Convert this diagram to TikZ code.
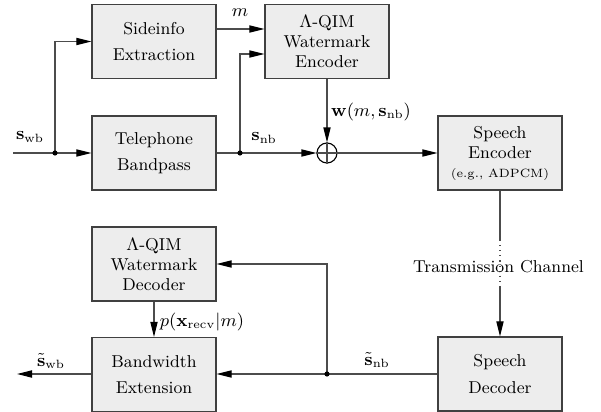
\documentclass[tikz,border=0pt]{standalone}
\usepackage{amsmath,amssymb}
\usetikzlibrary{arrows.meta}

\begin{document}
\begin{tikzpicture}[x=0.5pt,y=-0.5pt,
  blk/.style={draw=black!75,fill=black!7,line width=0.6pt,minimum width=62pt,
    minimum height=37pt,inner sep=0pt,align=center,font=\fontsize{8.6}{10}\selectfont},
  sig/.style={draw=black!70,line width=0.55pt},
  arr/.style={sig,-{Triangle[length=7.5pt,width=3.6pt,black]}},
  lbl/.style={font=\fontsize{8.6}{10}\selectfont,inner sep=0pt}]
 \useasboundingbox (0,0) rectangle (601,412);
 \node[blk] (side) at (154,41.5) {Sideinfo\\[3.3pt]Extraction};
 \node[blk] (tbp) at (154,153) {Telephone\\[3.3pt]Bandpass};
 \node[blk] (wmenc) at (327,41.5) {$\Lambda$-QIM\\Watermark\\Encoder};
 \node[blk] (spenc) at (500,153) {Speech\\Encoder\\[-0.5pt]{\fontsize{6}{7}\selectfont (e.g., ADPCM)}};
 \node[blk] (spdec) at (500,374) {Speech\\[3.3pt]Decoder};
 \node[blk] (wmdec) at (154,264) {$\Lambda$-QIM\\Watermark\\Decoder};
 \node[blk] (bwe) at (154,374.5) {Bandwidth\\[3.3pt]Extension};
 \node[circle,draw=black,line width=0.55pt,minimum size=10pt,inner sep=0pt] (plus) at (327,153) {};
 \draw[sig] (plus.north) -- (plus.south) (plus.west) -- (plus.east);
 \coordinate (in) at (13,153);
 \coordinate (j1) at (55,153);
 \coordinate (j2) at (240,153);
 \coordinate (j3) at (327,374);
 \coordinate (out) at (17,374);
 \coordinate (ch1) at (500,240);
 \coordinate (ch2) at (500,287);
 \draw[sig] (in) -- (j1);
 \draw[arr] (j1) -- (tbp.west);
 \draw[arr] (j1) |- (side.west);
 \draw[arr] ([yshift=6.25pt]side.east) -- ([yshift=6.25pt]wmenc.west);
 \draw[sig] (tbp.east) -- (j2);
 \draw[arr] (j2) -- (plus.west);
 \draw[arr] (j2) |- ([yshift=-6.25pt]wmenc.west);
 \draw[arr] (wmenc.south) -- (plus.north);
 \draw[arr] (plus.east) -- (spenc.west);
 \draw[sig] (spenc.south) -- (ch1);
 \draw[sig,dotted] (ch1) -- (ch2);
 \draw[arr] (ch2) -- (spdec.north);
 \draw[arr] (spdec.west) -- (bwe.east |- j3);
 \draw[arr] (j3) |- (wmdec.east);
 \draw[arr] (wmdec.south) -- (bwe.north);
 \draw[arr] (bwe.west |- out) -- (out);
 \foreach \p in {j1,j2,j3} \fill[black] (\p) circle (1.3pt);
 \node[lbl] (lm) at (240,13) {$m$};
 \node[lbl] (lswb) at (30,137) {$\mathbf{s}_{\mathrm{wb}}$};
 \node[lbl] (lsnb) at (264,138) {$\mathbf{s}_{\mathrm{nb}}$};
 \node[lbl] (lw) at (371,112) {$\mathbf{w}(m,\mathbf{s}_{\mathrm{nb}})$};
 \node[lbl] (lch) at (498.5,267) {Transmission Channel};
 \node[lbl] (ltnb) at (377,360) {$\tilde{\mathbf{s}}_{\mathrm{nb}}$};
 \node[lbl] (lp) at (202,322) {$p(\mathbf{x}_{\mathrm{recv}}|m)$};
 \node[lbl] (ltwb) at (51,361) {$\tilde{\mathbf{s}}_{\mathrm{wb}}$};
\end{tikzpicture}
\end{document}
